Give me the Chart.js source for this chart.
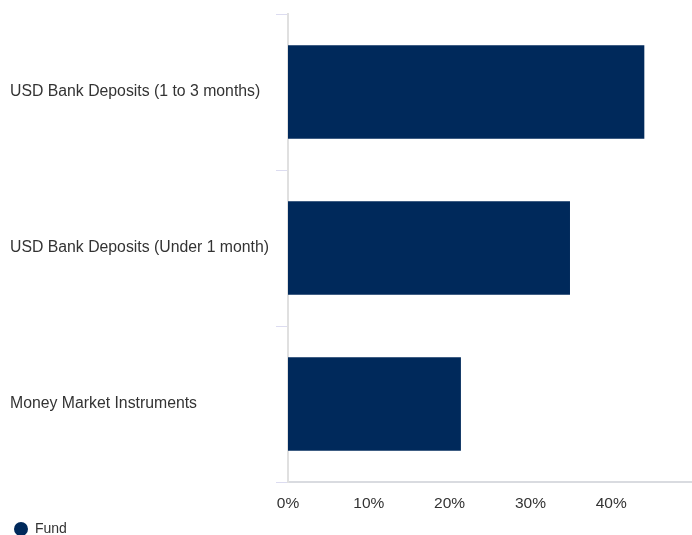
<!DOCTYPE html>
<html>
<head>
<meta charset="utf-8">
<script src="https://cdn.jsdelivr.net/npm/chart.js@4/dist/chart.umd.min.js"></script>
<style>
  html, body { margin: 0; padding: 0; background: #fff; }
  #wrap { width: 692px; height: 535px; position: relative; }
</style>
</head>
<body>
<div id="wrap"><canvas id="chart"></canvas></div>
<script>
const categories = ['USD Bank Deposits (1 to 3 months)', 'USD Bank Deposits (Under 1 month)', 'Money Market Instruments'];
const fundValues = [44.1, 34.9, 21.4];
const xTicks = [0, 10, 20, 30, 40, 50];

const navy = '#00295b';
const family = 'Liberation Sans, Arial, sans-serif';

const ctx = document.getElementById('chart').getContext('2d');
new Chart(ctx, {
    type: 'bar',
    data: {
        labels: categories,
        datasets: [{ label: 'Fund', data: fundValues, backgroundColor: navy, borderWidth: 0, categoryPercentage: 1, barPercentage: 0.6 }]
    },
    options: {
        indexAxis: 'y',
        responsive: true,
        maintainAspectRatio: false,
        animation: false,
        layout: { padding: { left: 10, top: 14, right: 0, bottom: -11 } },
        plugins: {
            legend: {
                position: 'bottom',
                align: 'start',
                labels: { usePointStyle: true, pointStyle: 'circle', boxHeight: 10, pointStyleWidth: 14, padding: 4, color: '#333', font: { family, size: 14 } }
            },
            tooltip: { enabled: false }
        },
        scales: {
            x: {
                min: 0, max: 50,
                afterBuildTicks: scale => { scale.ticks = xTicks.map(v => ({ value: v })); },
                afterFit: scale => { scale.height = 36; scale.paddingLeft = 0; scale.paddingRight = 0; },
                grid: { display: false },
                border: { display: true, color: '#d9dbe0', width: 2 },
                ticks: { padding: 4, color: '#333', font: { family, size: 15.5 }, maxRotation: 0, callback: v => v === 50 ? '' : v + '%' }
            },
            y: {
                afterFit: scale => { scale.width = 278; },
                grid: { display: true, offset: true, drawOnChartArea: false, tickLength: 12, color: '#dcdcf0', lineWidth: 1 },
                border: { display: true, color: '#e0e0e0', width: 2 },
                ticks: { crossAlign: 'far', color: '#333', font: { family, size: 15.8 } }
            }
        }
    }
});
</script>
</body>
</html>
